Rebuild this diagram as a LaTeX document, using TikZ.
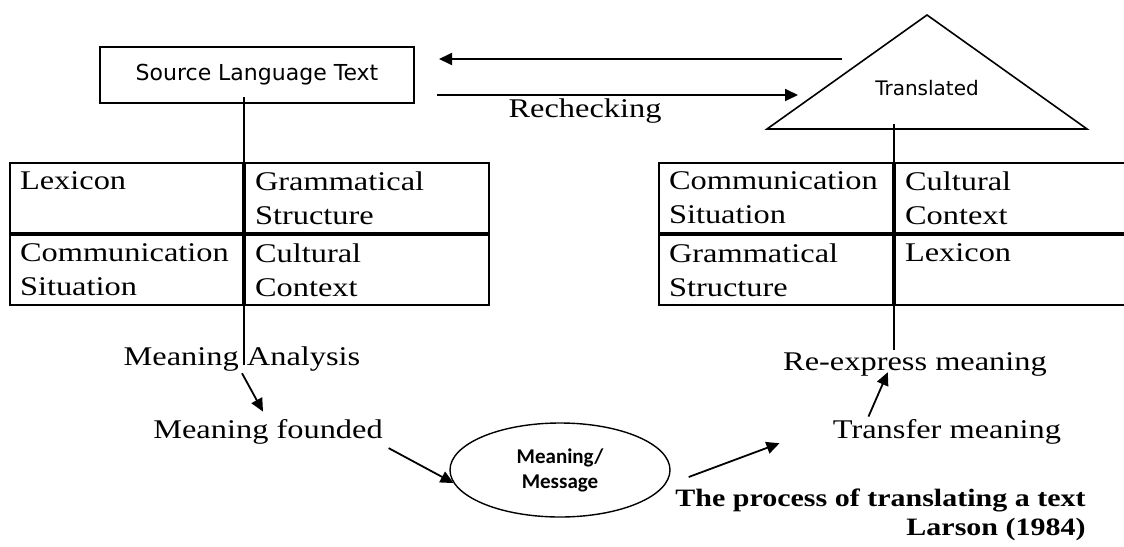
\documentclass[tikz,border=0pt]{standalone}
\usepackage{fontspec}
\setmainfont{Liberation Serif}[FakeStretch=1.2]
\newfontfamily\comicfont{DejaVu Sans}
\newfontfamily\calfont{Carlito}
\usepackage{tikz}
\usetikzlibrary{calc, positioning, shapes, arrows.meta}
\tikzstyle{every node}=[font=\fontsize{13.5}{17}\selectfont, inner sep=1pt]
\tikzstyle{cell}=[draw, line width=1pt, anchor=north west, minimum height=35pt, inner xsep=5pt, align=left]
\tikzstyle{arr}=[-{Triangle[length=6.5pt,width=6pt]}, line width=0.9pt]
\tikzstyle{link}=[line width=0.7pt]

\begin{document}
\begin{tikzpicture}[x=0.5pt, y=-0.5pt]
			\useasboundingbox (0,0) rectangle (1124,546);
			\clip (0,0) rectangle (1124,546);
			\node[draw, line width=1pt, minimum width=157pt, minimum height=28pt, font=\comicfont\fontsize{11}{13}\selectfont] (src) at (257,75) {Source Language Text};
			\draw[line width=0.8pt] (767,129) -- (927,15) -- (1087,129) -- cycle;
			\coordinate (base) at (927,129);
			\node[font=\comicfont\fontsize{10}{12}\selectfont] (tri) at (927,88) {Translated};
			\coordinate (back) at (842,59);
			\coordinate (fwd) at (798,95);
			\draw[arr, shorten >=12pt] (back) -- (back -| src.east);
			\draw[arr, shorten <=11pt] (fwd -| src.east) -- (fwd);
			\node[anchor=base] (check) at (585,117) {Rechecking};
			\node[cell, text width=106.5pt] (l11) at (9,162) {Lexicon\\~};
			\node[cell, text width=112pt] (l12) at (l11.north east) {Grammatical\\Structure};
			\node[cell, text width=106.5pt] (l21) at (l11.south west) {Communication\\Situation};
			\node[cell, text width=112pt] (l22) at (l21.north east) {Cultural\\Context};
			\node[cell, text width=107pt] (r11) at (658,162) {Communication\\Situation};
			\node[cell, text width=114pt] (r12) at (r11.north east) {Cultural\\Context};
			\node[cell, text width=107pt] (r21) at (r11.south west) {Grammatical\\Structure};
			\node[cell, text width=114pt] (r22) at (r21.north east) {Lexicon\\~};
			\node[anchor=base] (ana) at (242,365) {Meaning Analysis};
			\node[anchor=base] (fnd) at (268,438) {Meaning founded};
			\node[draw, ellipse, minimum width=110pt, minimum height=47pt, inner sep=0pt, line width=0.7pt, align=center, font=\calfont\bfseries\fontsize{10.5}{12.5}\selectfont] (msg) at (560,470) {Meaning/\\Message};
			\node[anchor=base] (trf) at (947,438) {Transfer meaning};
			\node[anchor=base] (rex) at (915,370) {Re-express meaning};
			\node[anchor=north east, align=right, font=\bfseries\fontsize{12.5}{14.5}\selectfont] (cap) at (1088,486) {The process of translating a text\\Larson (1984)};
			\draw[link] ([yshift=3.5pt]src.south -| l12.west) -- (ana.base -| l12.west);
			\draw[link] ([yshift=2.5pt]base -| r12.west) -- (rex.north -| r12.west);
			\draw[arr] (ana.south) -- ([xshift=-2.5pt,yshift=2.5pt]fnd.north);
			\draw[arr, shorten <=2pt] (fnd.south east) -- (msg.187);
			\draw[arr] ([xshift=9pt,yshift=-3.5pt]msg.east) -- ([xshift=-25.5pt,yshift=1.5pt]trf.south west);
			\draw[arr] ([xshift=19pt]trf.north west) -- ([xshift=53.5pt,yshift=3pt]rex.south west);
		\end{tikzpicture}
\end{document}
